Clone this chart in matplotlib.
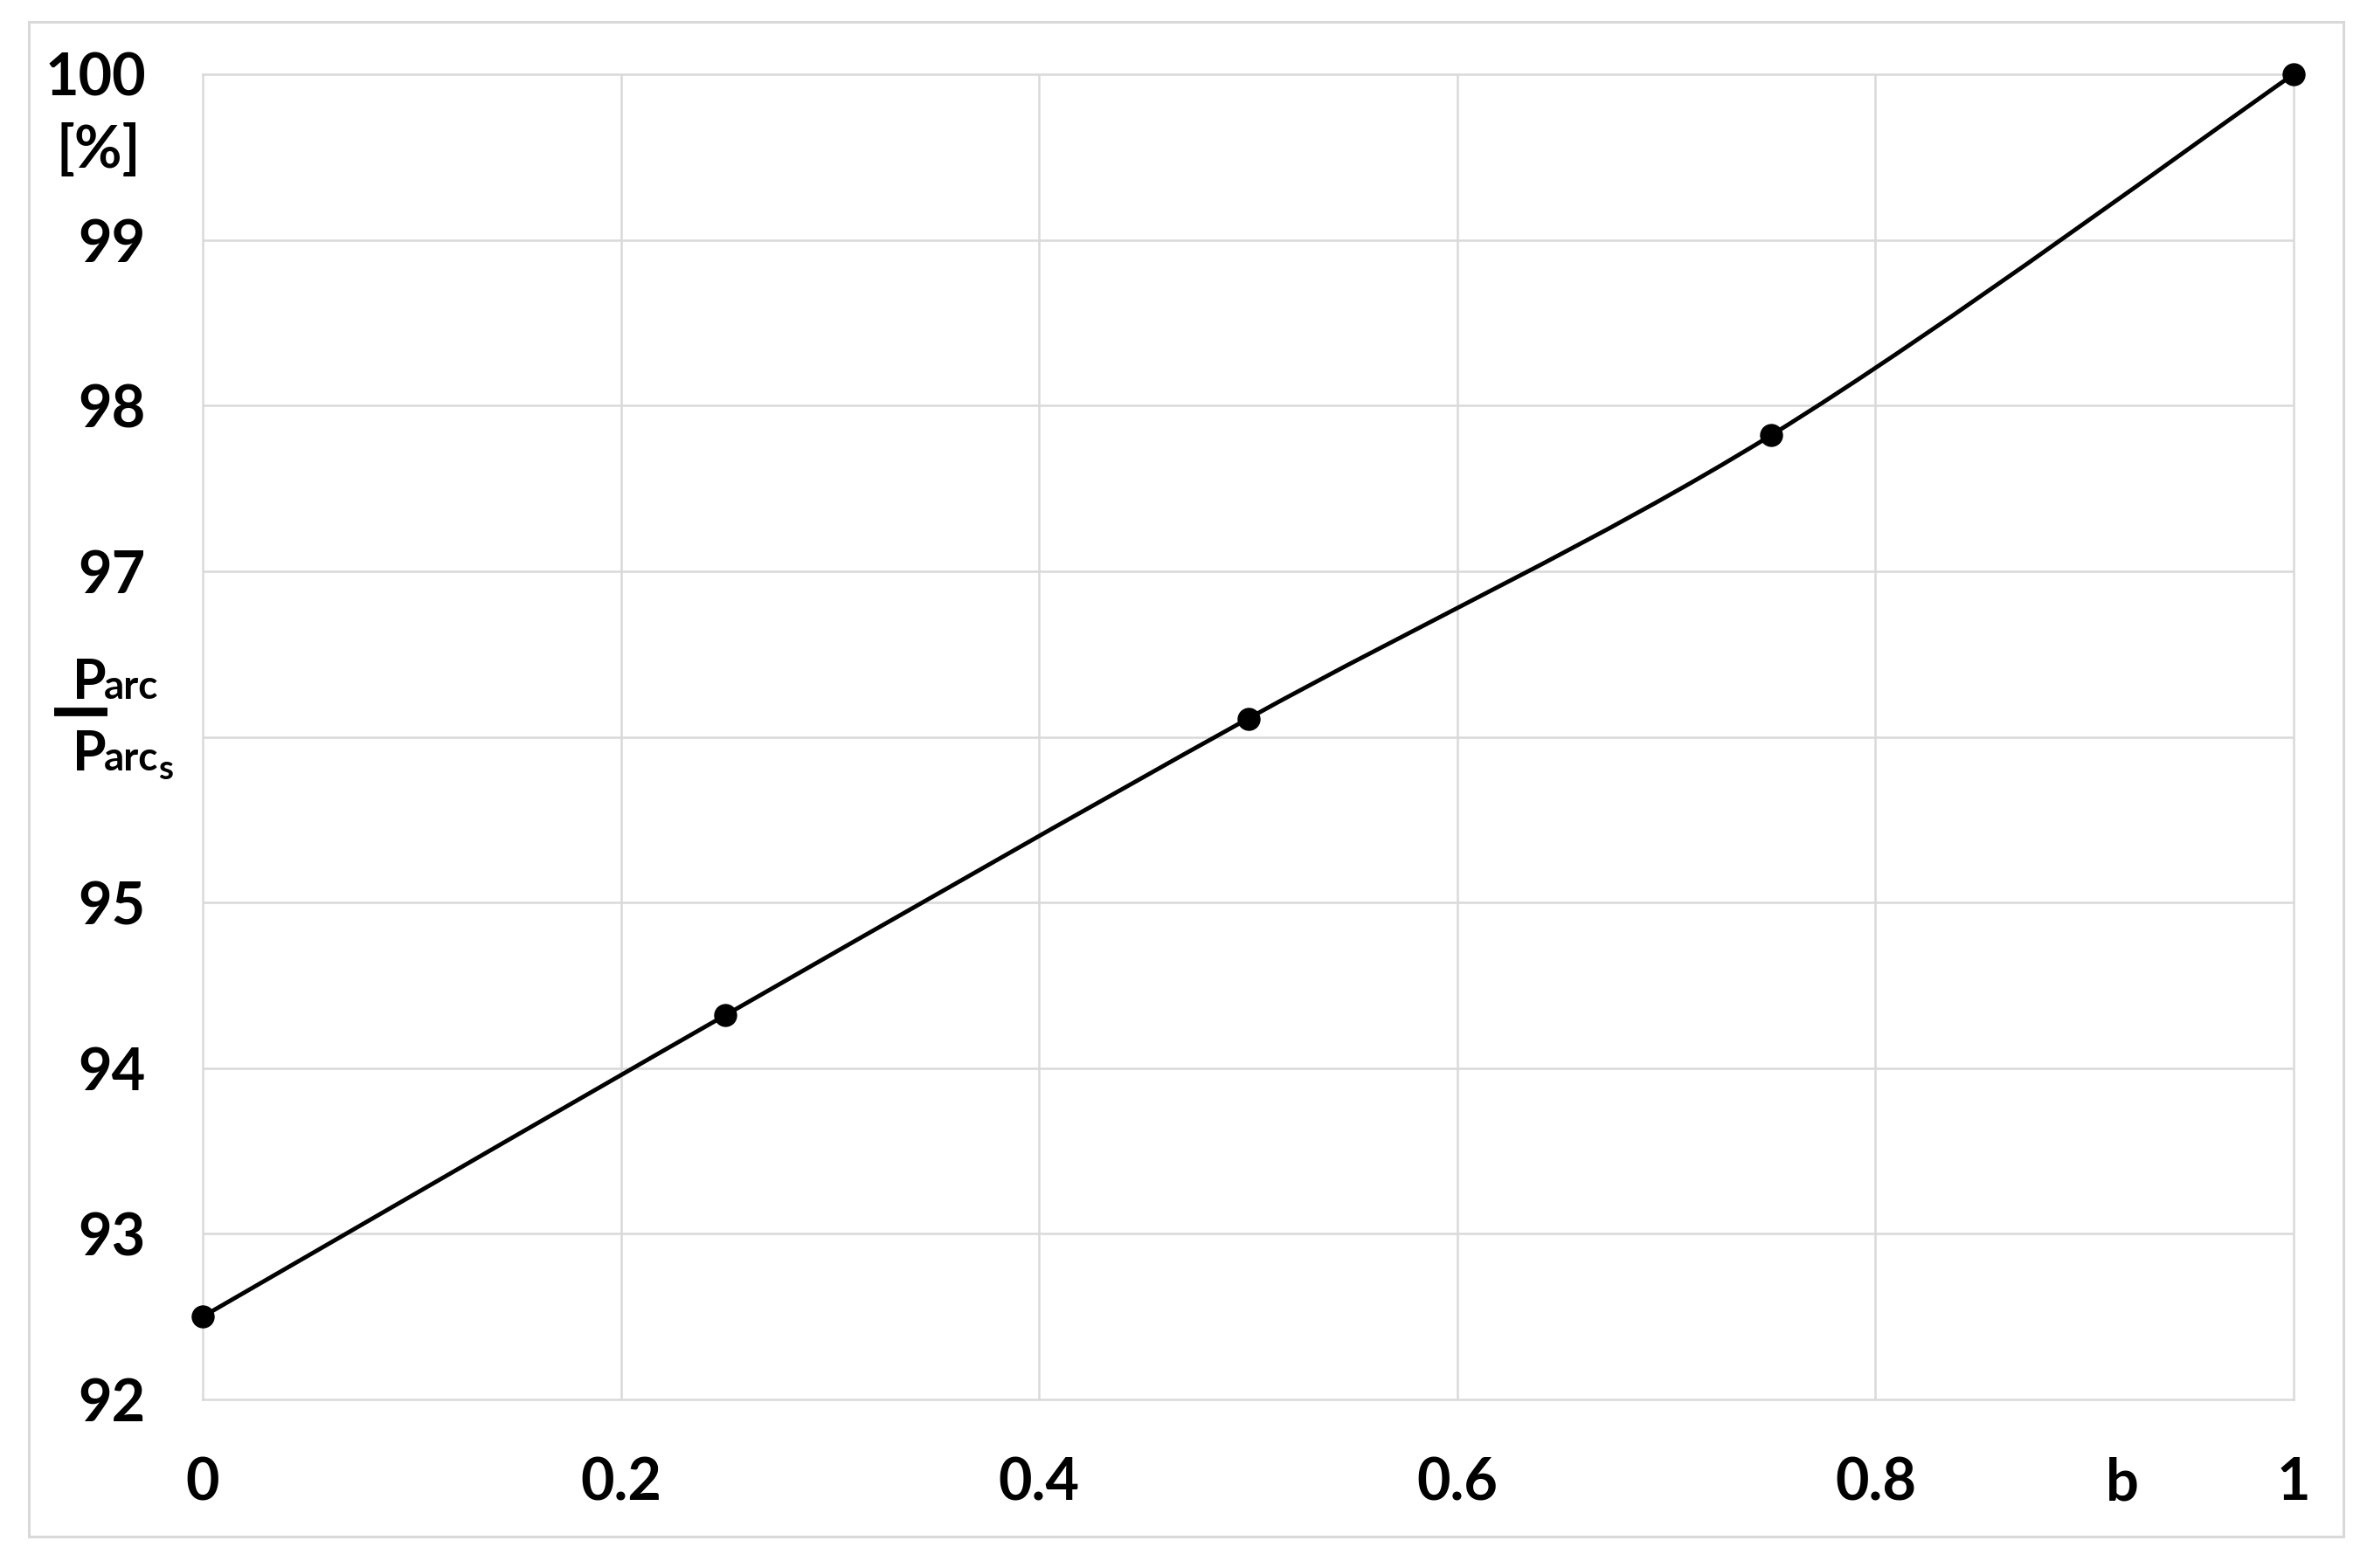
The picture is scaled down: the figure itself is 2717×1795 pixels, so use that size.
import numpy as np
import matplotlib.pyplot as plt
from matplotlib.path import Path
from matplotlib.patches import PathPatch, Rectangle

# data
b_vals = [0.0, 0.25, 0.5, 0.75, 1.0]
ratio_vals = [92.5, 94.32, 96.11, 97.82, 100.0]

x_ticks = [0, 0.2, 0.4, 0.6, 0.8, 0.918, 1]
x_labels = ['0', '0.2', '0.4', '0.6', '0.8', 'b', '1']
y_ticks = [92, 93, 94, 95, 96, 97, 98, 99, 100]
y_labels = ['92', '93', '94', '95', '', '97', '98', '99', '100']

grid_col = '#d9d9d9'
plt.rcParams['font.family'] = ['Lato', 'DejaVu Sans']
plt.rcParams['font.weight'] = 'bold'

fig = plt.figure(figsize=(27.17, 17.95), dpi=100)
W, H = 2717, 1795
ax = fig.add_axes([232 / W, 1 - 1602 / H, (2625 - 232) / W, (1602 - 85) / H])

# outer chart frame
fig.patches.append(Rectangle((33 / W, 1 - 1759 / H), (2682 - 33) / W, (1759 - 25) / H,
                             transform=fig.transFigure, fill=False,
                             edgecolor=grid_col, lw=2.2))

ax.set_xlim(0, 1)
ax.set_ylim(92, 100)
ax.set_xticks(x_ticks)
ax.set_xticklabels(x_labels)
ax.set_yticks(y_ticks)
ax.set_yticklabels(y_labels)
ax.tick_params(length=0, labelsize=48, pad=47)
for lab in ax.get_xticklabels() + ax.get_yticklabels():
    lab.set_fontweight('bold')

# grid lines (skip the b position)
for xv in [0.2, 0.4, 0.6, 0.8]:
    ax.axvline(xv, color=grid_col, lw=1.8, zorder=0)
for yv in y_ticks[1:-1]:
    ax.axhline(yv, color=grid_col, lw=1.8, zorder=0)
for sp in ax.spines.values():
    sp.set_color(grid_col)
    sp.set_linewidth(1.8)

# smoothed line like a spreadsheet "smooth line" (Catmull-Rom bezier)
pts = np.column_stack([b_vals, ratio_vals])
ext = np.vstack([pts[0], pts, pts[-1]])
verts = [tuple(pts[0])]
codes = [Path.MOVETO]
for i in range(len(pts) - 1):
    p0, p1, p2, p3 = ext[i], ext[i + 1], ext[i + 2], ext[i + 3]
    c1 = p1 + (p2 - p0) / 6
    c2 = p2 - (p3 - p1) / 6
    verts += [tuple(c1), tuple(c2), tuple(p2)]
    codes += [Path.CURVE4] * 3
ax.add_patch(PathPatch(Path(verts, codes), fill=False, edgecolor='black',
                       lw=3.5, clip_on=False, zorder=3))
ax.plot(b_vals, ratio_vals, 'o', color='black', ms=18, clip_on=False, zorder=4)

# unit under the top tick label
fig.text(113 / W, 1 - 173 / H, '[%]', ha='center', va='center', fontsize=48,
         fontweight='bold')

# fraction label in place of the 96 tick
fig.text(83 / W, 1 - 800 / H, 'P', fontsize=45, fontweight='bold',
         ha='left', va='baseline')
fig.text(119 / W, 1 - 800 / H, 'arc', fontsize=33, fontweight='bold',
         ha='left', va='baseline')
fig.add_artist(plt.Line2D([62 / W, 123 / W], [1 - 815 / H, 1 - 815 / H],
                          transform=fig.transFigure, color='black', lw=7,
                          solid_capstyle='butt'))
fig.text(83 / W, 1 - 882 / H, 'P', fontsize=45, fontweight='bold',
         ha='left', va='baseline')
fig.text(119 / W, 1 - 882 / H, 'arc', fontsize=33, fontweight='bold',
         ha='left', va='baseline')
fig.text(181 / W, 1 - 892 / H, 's', fontsize=28, fontweight='bold',
         ha='left', va='baseline')

fig.savefig('out.png', dpi=100, facecolor='white')
